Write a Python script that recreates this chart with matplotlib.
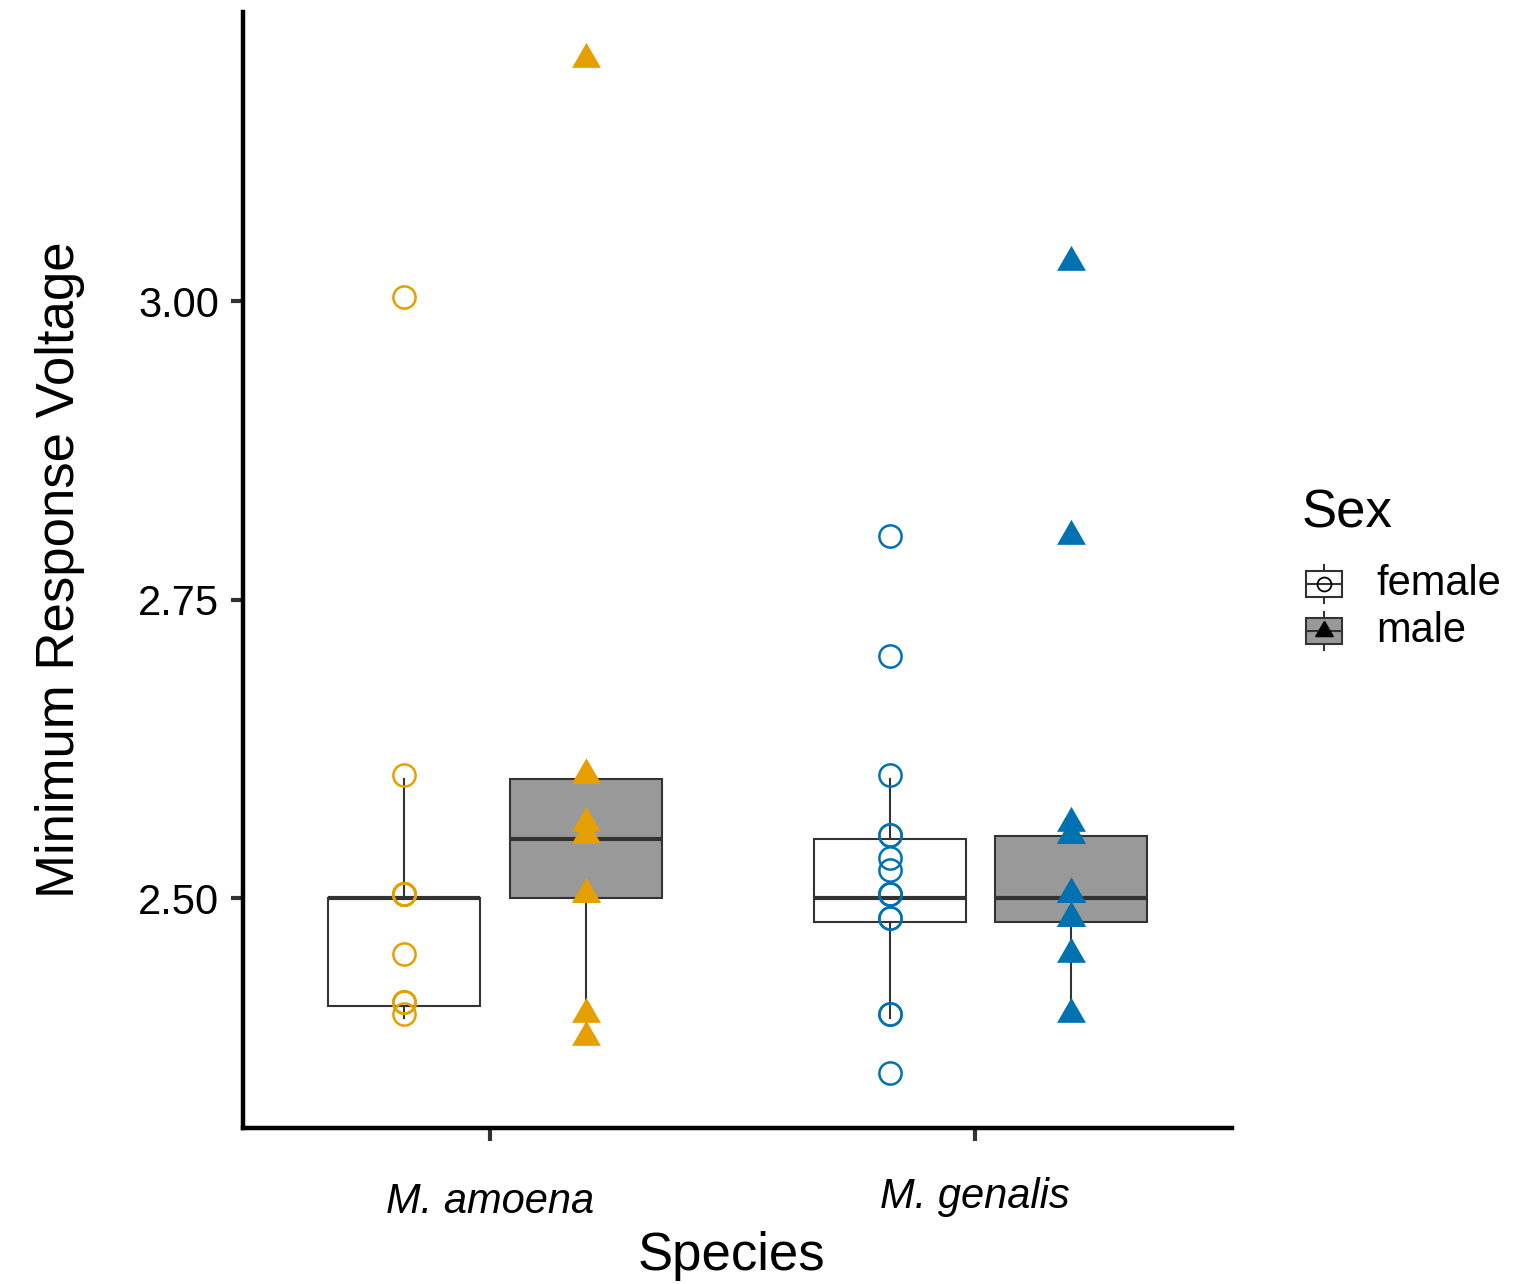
import matplotlib
matplotlib.use('Agg')
import matplotlib.pyplot as plt
from matplotlib.path import Path
from matplotlib.patches import Rectangle
from matplotlib.transforms import ScaledTranslation

plt.rcParams['font.family'] = ['Liberation Sans', 'DejaVu Sans']

# values
species = ['M. amoena', 'M. genalis']
sexes = ['female', 'male']
amoena_female = [2.40, 2.41, 2.41, 2.41, 2.45, 2.50, 2.50, 2.50, 2.50, 2.50, 2.60, 3.00]
amoena_male = [2.38, 2.40, 2.50, 2.50, 2.55, 2.55, 2.56, 2.60, 2.60, 2.60, 3.20]
genalis_female = [2.35, 2.40, 2.40, 2.48, 2.48, 2.50, 2.50, 2.50, 2.52, 2.53, 2.55, 2.55,
                  2.60, 2.70, 2.80]
genalis_male = [2.40, 2.45, 2.48, 2.48, 2.50, 2.50, 2.50, 2.55, 2.55, 2.56, 2.80, 3.03]
y_ticks = [2.50, 2.75, 3.00]
y_ticklabels = ['2.50', '2.75', '3.00']

data = {
    ('M. amoena', 'female'): amoena_female,
    ('M. amoena', 'male'): amoena_male,
    ('M. genalis', 'female'): genalis_female,
    ('M. genalis', 'male'): genalis_male,
}
species_colours = {'M. amoena': '#E69F00', 'M. genalis': '#0072B2'}
box_fill = {'female': 'white', 'male': '#999999'}
dodge = {'female': -0.176, 'male': 0.198}
box_w = 0.313
edge = '#333333'

# ggplot style triangle (centroid on the point)
tri = Path([(0, 1), (-0.866, -0.5), (0.866, -0.5), (0, 1)],
           [Path.MOVETO, Path.LINETO, Path.LINETO, Path.CLOSEPOLY])

W, H = 1518, 1284
fig = plt.figure(figsize=(W / 100, H / 100), dpi=100)
ax = fig.add_axes([243 / W, 1 - 1128 / H, (1232 - 243) / W, (1128 - 12) / H])
# points sit a few pixels above the box lines in the original
pt_shift = ax.transData + ScaledTranslation(0, 4 / 100, fig.dpi_scale_trans)

for i, sp in enumerate(species):
    for sex in sexes:
        vals = data[(sp, sex)]
        pos = i + 1 + dodge[sex]
        ax.boxplot(vals, positions=[pos], widths=box_w, patch_artist=True,
                   showfliers=False, showcaps=False, whis=1.5, manage_ticks=False,
                   boxprops=dict(facecolor=box_fill[sex], edgecolor=edge, linewidth=1.5),
                   whiskerprops=dict(color=edge, linewidth=1.5),
                   medianprops=dict(color=edge, linewidth=3, solid_capstyle='butt'))
        col = species_colours[sp]
        if sex == 'female':
            ax.plot([pos] * len(vals), vals, linestyle='none', marker='o', ms=16,
                    mfc='none', mec=col, mew=1.8, zorder=3, transform=pt_shift)
        else:
            ax.plot([pos] * len(vals), vals, linestyle='none', marker=tri, ms=24,
                    mfc=col, mec=col, mew=0, zorder=3, transform=pt_shift)

ax.set_xlim(0.4917, 2.5296)
ax.set_ylim(2.3075, 3.2425)
ax.set_xticks([1, 2])
ax.set_xticklabels(species, fontstyle='italic', fontsize=30, va='baseline')
ax.set_yticks(y_ticks)
ax.set_yticklabels(y_ticklabels, fontsize=30)
ax.tick_params(axis='x', length=9, width=3, color=edge, pad=52)
ax.tick_params(axis='y', length=9, width=3, color=edge, pad=8)
# the genalis label sits a little higher, as in R where it is centred with its descender
lab = ax.get_xticklabels()[1]
lab.set_transform(lab.get_transform() + ScaledTranslation(0, 5 / 100, fig.dpi_scale_trans))

for s in ['top', 'right']:
    ax.spines[s].set_visible(False)
for s in ['left', 'bottom']:
    ax.spines[s].set_linewidth(3.2)
    ax.spines[s].set_color('black')

ax.set_xlabel('Species', fontsize=38, va='baseline')
ax.xaxis.set_label_coords(0.4934, -0.1272)
ax.set_ylabel('Minimum Response Voltage', fontsize=38, va='center')
ax.yaxis.set_label_coords(-0.185, 0.5)

# legend drawn by hand in pixel units
lg = fig.add_axes([1290 / W, 1 - 660 / H, 228 / W, 180 / H])
lg.set_xlim(1290, 1518)
lg.set_ylim(660, 480)
lg.axis('off')
lg.text(1302, 514, 'Sex', fontsize=38, va='center', ha='left')
key_y = {'female': 584, 'male': 631}
key_marker = {'female': ('o', 10, 'none'), 'male': (tri, 14, 'black')}
for sex in sexes:
    cy = key_y[sex]
    lg.plot([1324, 1324], [cy - 19, cy + 19], color=edge, lw=1.5)
    lg.add_patch(Rectangle((1306, cy - 13), 36, 26, facecolor=box_fill[sex],
                           edgecolor=edge, lw=1.5, zorder=2))
    lg.plot([1306, 1342], [cy, cy], color=edge, lw=1.5, zorder=3, solid_capstyle='butt')
    m, ms, fc = key_marker[sex]
    lg.plot([1324], [cy], marker=m, ms=ms, mfc=fc, mec='black', mew=1.3, zorder=4)
    lg.text(1376, cy, sex, fontsize=30, va='center', ha='left')

fig.savefig('out.png', dpi=100)
